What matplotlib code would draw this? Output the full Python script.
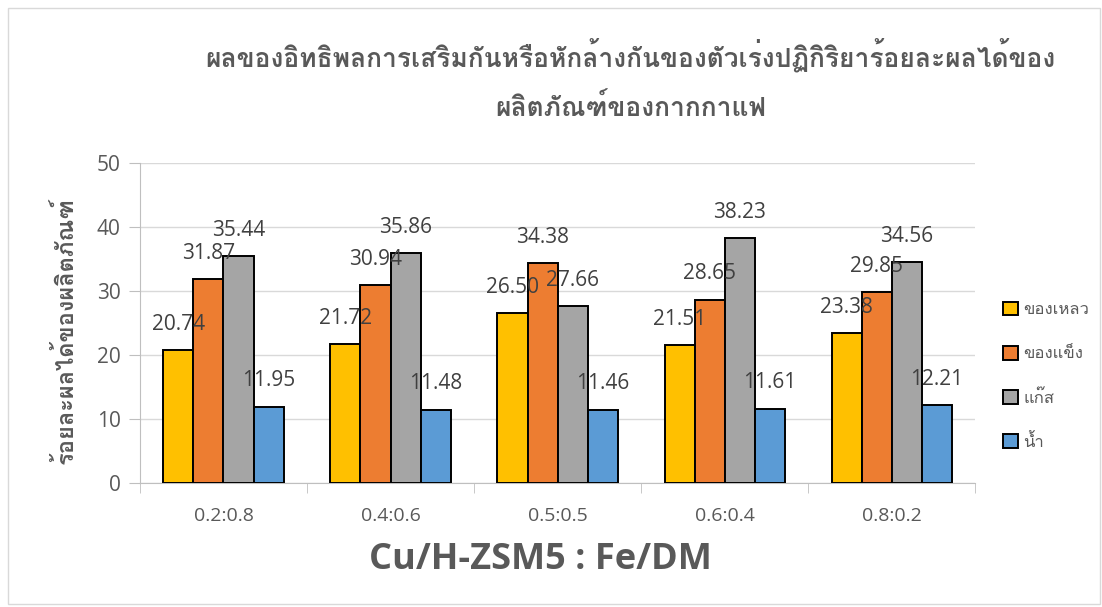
import matplotlib
matplotlib.use("Agg")
import matplotlib.pyplot as plt
import numpy as np
from matplotlib import font_manager
from matplotlib.ft2font import FT2Font
from matplotlib.patches import Patch, Rectangle

categories = ["0.2:0.8", "0.4:0.6", "0.5:0.5", "0.6:0.4", "0.8:0.2"]
series_names = ["ของเหลว", "ของแข็ง", "แก๊ส", "น้ำ"]
liquid = [20.74, 21.72, 26.50, 21.51, 23.38]
solid = [31.87, 30.94, 34.38, 28.65, 29.85]
gas = [35.44, 35.86, 27.66, 38.23, 34.56]
water = [11.95, 11.48, 11.46, 11.61, 12.21]
colors = ["#FFC000", "#ED7D31", "#A5A5A5", "#5B9BD5"]
title = "ผลของอิทธิพลการเสริมกันหรือหักล้างกันของตัวเร่งปฏิกิริยาร้อยละผลได้ของ\nผลิตภัณฑ์ของกากกาแฟ"
ylabel = "ร้อยละผลได้ของผลิตภัณฑ์"
xlabel = "Cu/H-ZSM5 : Fe/DM"

# find a font with Thai glyphs
thai = []
seen = set()
for f in font_manager.fontManager.ttflist:
    if f.name in seen:
        continue
    try:
        if 0x0E01 in FT2Font(f.fname).get_charmap():
            thai.append(f.name)
            seen.add(f.name)
    except Exception:
        pass
fam = thai[:1] + ["DejaVu Sans"]
plt.rcParams['font.family'] = fam
num_fam = ["Open Sans", "DejaVu Sans"]

fig = plt.figure(figsize=(11.02, 6.07), dpi=100)
fig.patches.append(Rectangle((0.007, 0.005), 0.991, 0.982, transform=fig.transFigure,
                             fill=False, edgecolor="#D9D9D9", linewidth=1))
ax = fig.add_axes([0.127, 0.2043, 0.758, 0.5272])

data = [liquid, solid, gas, water]
x = np.arange(len(categories))
w = 0.18
for i, (vals, c) in enumerate(zip(data, colors)):
    pos = x + (i - 1.5) * w
    ax.bar(pos, vals, w, color=c, edgecolor="black", linewidth=1.4,
           label=series_names[i], zorder=3)
    for p, v in zip(pos, vals):
        ax.annotate(f"{v:.2f}", (p, v), xytext=(0, 11), textcoords="offset points",
                    ha="center", va="bottom", fontsize=15, color="#404040",
                    family=num_fam, zorder=4)

ax.set_xlim(-0.5, len(categories) - 0.5)
ax.set_ylim(0, 50)
ax.set_yticks([0, 10, 20, 30, 40, 50])
ax.set_xticks(x)
ax.set_xticklabels(categories)
ax.set_xticks(np.arange(-0.5, len(categories)), minor=True)
ax.tick_params(axis="x", which="major", length=0, pad=17, labelsize=14, labelcolor="#595959")
ax.tick_params(axis="x", which="minor", length=7, color="#BFBFBF")
ax.tick_params(axis="y", length=8, color="#BFBFBF", labelsize=15, labelcolor="#595959", pad=6)
for lab in ax.get_xticklabels() + ax.get_yticklabels():
    lab.set_family(num_fam)
ax.grid(axis="y", color="#D9D9D9", linewidth=1, zorder=0)
for s in ["top", "right"]:
    ax.spines[s].set_visible(False)
ax.spines["left"].set_color("#BFBFBF")
ax.spines["bottom"].set_color("#BFBFBF")

fig.text(0.572, 0.908, title.split("\n")[0], ha="center", va="center",
         fontsize=19, fontweight="bold", color="#595959")
fig.text(0.572, 0.823, title.split("\n")[1], ha="center", va="center",
         fontsize=19, fontweight="bold", color="#595959")
fig.text(0.059, 0.455, ylabel, rotation=90, ha="center", va="center",
         fontsize=17, fontweight="bold", color="#595959")
fig.text(0.49, 0.077, xlabel, ha="center", va="center", fontsize=26,
         fontweight="bold", color="#595959", family=num_fam)

handles = [Patch(facecolor=c, edgecolor="black", linewidth=1.4) for c in colors]
fig.legend(handles, series_names, loc="center left", bbox_to_anchor=(0.897, 0.38),
           frameon=False, fontsize=12, labelcolor="#595959", handlelength=0.9,
           handleheight=0.9, labelspacing=1.65, handletextpad=0.3)

fig.savefig("out.png", dpi=100)
